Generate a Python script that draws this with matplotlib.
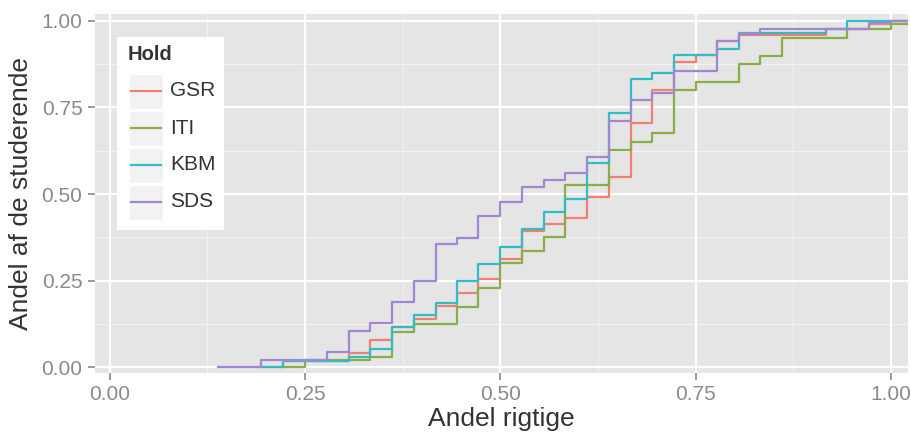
import matplotlib
matplotlib.use("Agg")
import matplotlib.pyplot as plt
from matplotlib.patches import Rectangle
from matplotlib.lines import Line2D

# andel rigtige (x) og kumuleret andel af de studerende (y) for hvert hold
gsr_x = [0.194, 0.222, 0.306, 0.333, 0.361, 0.389, 0.417, 0.444, 0.472, 0.500, 0.528, 0.556,
         0.583, 0.611, 0.639, 0.667, 0.694, 0.722, 0.750, 0.778, 0.806, 0.917, 0.972, 1.000]
gsr_y = [0.000, 0.020, 0.041, 0.080, 0.118, 0.139, 0.177, 0.216, 0.256, 0.313, 0.394, 0.413,
         0.430, 0.492, 0.550, 0.705, 0.800, 0.880, 0.900, 0.940, 0.958, 0.977, 0.990, 1.000]

iti_x = [0.222, 0.250, 0.333, 0.361, 0.389, 0.444, 0.472, 0.500, 0.528, 0.556, 0.583, 0.639,
         0.667, 0.694, 0.722, 0.750, 0.806, 0.833, 0.861, 0.944, 1.000]
iti_y = [0.000, 0.022, 0.031, 0.103, 0.125, 0.175, 0.228, 0.302, 0.335, 0.375, 0.526, 0.627,
         0.650, 0.675, 0.800, 0.823, 0.875, 0.898, 0.949, 0.975, 0.990]

kbm_x = [0.194, 0.222, 0.306, 0.333, 0.361, 0.389, 0.417, 0.444, 0.472, 0.500, 0.528, 0.556,
         0.583, 0.611, 0.639, 0.667, 0.694, 0.722, 0.778, 0.806, 0.917, 0.944]
kbm_y = [0.000, 0.019, 0.031, 0.052, 0.116, 0.151, 0.185, 0.250, 0.298, 0.348, 0.399, 0.449,
         0.485, 0.588, 0.733, 0.833, 0.850, 0.900, 0.917, 0.963, 0.977, 1.000]

sds_x = [0.139, 0.194, 0.278, 0.306, 0.333, 0.361, 0.389, 0.417, 0.444, 0.472, 0.500, 0.528,
         0.556, 0.583, 0.611, 0.639, 0.667, 0.694, 0.722, 0.778, 0.806, 0.833, 0.972, 1.000]
sds_y = [0.000, 0.022, 0.045, 0.105, 0.127, 0.190, 0.250, 0.355, 0.372, 0.437, 0.478, 0.519,
         0.540, 0.561, 0.606, 0.710, 0.771, 0.792, 0.855, 0.940, 0.961, 0.977, 0.992, 1.000]

hold = ["GSR", "ITI", "KBM", "SDS"]
farver = ["#F27F73", "#88AF45", "#33BCC4", "#A286D2"]
serier = [(gsr_x, gsr_y), (iti_x, iti_y), (kbm_x, kbm_y), (sds_x, sds_y)]

ticks = [0.0, 0.25, 0.5, 0.75, 1.0]
tick_labels = ["0.00", "0.25", "0.50", "0.75", "1.00"]

plt.rcParams["font.family"] = ["Liberation Sans", "DejaVu Sans"]

W, H = 912, 438
fig = plt.figure(figsize=(W / 100, H / 100), dpi=100)
ax = fig.add_axes([95 / W, 1 - 373 / H, 813 / W, 359 / H])
ax.set_facecolor("#E5E5E5")
ax.set_xlim(-0.019, 1.022)
ax.set_ylim(-0.016, 1.019)

# linjerne fortsaetter ud til panelets hoejre kant (som stat_ecdf)
x_max = ax.get_xlim()[1]
for (x, y), farve in zip(serier, farver):
    ax.plot(list(x) + [x_max], list(y) + [y[-1]], drawstyle="steps-post",
            color=farve, lw=1.6, zorder=3)

# gitter som i ggplot (hvide hovedlinjer, lyse mellemlinjer)
for v in [0.125, 0.375, 0.625, 0.875]:
    ax.axvline(v, color="#F2F2F2", lw=0.8, zorder=1)
    ax.axhline(v, color="#F2F2F2", lw=0.8, zorder=1)
for v in ticks:
    ax.axvline(v, color="white", lw=1.6, zorder=2)
    ax.axhline(v, color="white", lw=1.6, zorder=2)

ax.set_xticks(ticks)
ax.set_xticklabels(tick_labels)
ax.set_yticks(ticks)
ax.set_yticklabels(tick_labels)
ax.tick_params(colors="#8A8A8A", labelsize=15, length=5, width=1.2, pad=4)
for s in ax.spines.values():
    s.set_visible(False)

ax.set_xlabel("Andel rigtige", fontsize=19, color="#333333", labelpad=2)
ax.set_ylabel("Andel af de studerende", fontsize=19, color="#333333", labelpad=6)


# legende tegnet i pixel-koordinater
def px(x, y):
    return x / W, 1 - y / H


fig.patches.append(Rectangle(px(117, 230), 107 / W, 193 / H, transform=fig.transFigure,
                             facecolor="white", edgecolor="none", zorder=5))
fig.text(*px(128, 55), "Hold", fontsize=14.5, fontweight="bold", color="#333333",
         va="center", ha="left", zorder=6)
for i, (navn, farve) in enumerate(zip(hold, farver)):
    top = 73 + i * 37
    fig.patches.append(Rectangle(px(129, top + 36), 34 / W, 35 / H, transform=fig.transFigure,
                                 facecolor="#F2F2F2", edgecolor="white", lw=1, zorder=6))
    cy = top + 18
    fig.lines.append(Line2D([131 / W, 161 / W], [1 - cy / H, 1 - cy / H], transform=fig.transFigure,
                            color=farve, lw=1.6, zorder=7))
    fig.text(*px(170, cy), navn, fontsize=15, color="#333333", va="center", ha="left", zorder=7)

fig.savefig("out.png", dpi=100)
